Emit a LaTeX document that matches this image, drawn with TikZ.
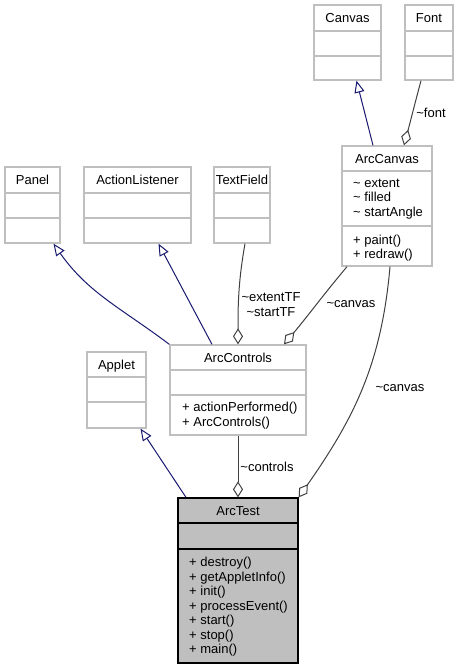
\documentclass[tikz,border=0pt]{standalone}
\usepackage{fontspec}
\setmainfont{Liberation Sans}
\usepackage{tikz}
\usetikzlibrary{positioning}
\usetikzlibrary{fit}
\usetikzlibrary{arrows.meta}
\definecolor{boxgray}{RGB}{191,191,191}
\definecolor{inhblue}{RGB}{25,25,112}
\definecolor{aggray}{RGB}{64,64,64}

\begin{document}
\begin{tikzpicture} [x = 1pt, y = -1pt,
    cls/.style = {draw = boxgray, line width = 1.3pt, inner sep = 0pt},
    mainclass/.style = {draw = black, fill = boxgray, line width = 1.3pt, inner sep = 0pt},
    txt/.style = {font = \fontsize{13}{14.5}\selectfont, inner sep = 0pt},
    title/.style = {txt, text height = 9.5pt, text depth = 2.5pt},
    members/.style = {txt, align = left, anchor = north west},
    inherit/.style = {draw = inhblue, line width = 1pt, -{Triangle[open, length = 12pt, width = 10pt]}},
    aggr/.style = {draw = aggray, line width = 1pt, -{Diamond[open, length = 16pt, width = 10pt]}}]
    \useasboundingbox (0,0) rectangle (459,669);
    % top row
    \node [cls, fit = {(314,5) (381,80)}] (canvas) {};
    \draw [cls] (314,31)--(381,31);
    \draw [cls] (314,56)--(381,56);
    \node [title, below = 8pt of canvas.north] (canvastitle) {Canvas};
    \node [cls, fit = {(405,5) (453,80)}] (font) {};
    \draw [cls] (405,31)--(453,31);
    \draw [cls] (405,56)--(453,56);
    \node [title, below = 8pt of font.north] (fonttitle) {Font};
    % ArcCanvas
    \node [cls, fit = {(342,146) (432,266)}] (arccanvas) {};
    \draw [cls] (342,171)--(432,171);
    \draw [cls] (342,226)--(432,226);
    \node [title, below = 8pt of arccanvas.north] (arccanvastitle) {ArcCanvas};
    \node [members] (arccanvasattr) at (353,178.5) {\textasciitilde{} extent\\ \textasciitilde{} filled\\ \textasciitilde{} startAngle};
    \node [members] (arccanvasops) at (353,234.5) {+ paint()\\ + redraw()};
    % middle row
    \node [cls, fit = {(5,167) (60,243)}] (panel) {};
    \draw [cls] (5,193)--(60,193);
    \draw [cls] (5,218)--(60,218);
    \node [title, below = 8pt of panel.north] (paneltitle) {Panel};
    \node [cls, fit = {(84,167) (191,243)}] (actionlistener) {};
    \draw [cls] (84,193)--(191,193);
    \draw [cls] (84,218)--(191,218);
    \node [title, below = 8pt of actionlistener.north] (actionlistenertitle) {ActionListener};
    \node [cls, fit = {(214,167) (270,243)}] (textfield) {};
    \draw [cls] (214,193)--(270,193);
    \draw [cls] (214,218)--(270,218);
    \node [title, below = 8pt of textfield.north] (textfieldtitle) {TextField};
    % ArcControls and Applet
    \node [cls, fit = {(170,345) (306,435)}] (arccontrols) {};
    \draw [cls] (170,370)--(306,370);
    \draw [cls] (170,395)--(306,395);
    \node [title, below = 8pt of arccontrols.north] (arccontrolstitle) {ArcControls};
    \node [members] (arccontrolsops) at (182,402) {+ actionPerformed()\\ + ArcControls()};
    \node [cls, fit = {(87,352) (146,428)}] (applet) {};
    \draw [cls] (87,377)--(146,377);
    \draw [cls] (87,402)--(146,402);
    \node [title, below = 8pt of applet.north] (applettitle) {Applet};
    % ArcTest
    \node [mainclass, fit = {(178,498) (298,663)}] (arctest) {};
    \draw [mainclass] (178,523)--(298,523);
    \draw [mainclass] (178,549)--(298,549);
    \node [title, below = 8pt of arctest.north] (arctesttitle) {ArcTest};
    \node [members] (arctestops) at (189,557) {+ destroy()\\ + getAppletInfo()\\ + init()\\ + processEvent()\\ + start()\\ + stop()\\ + main()};
    % inheritance
    \draw [inherit] ([xshift = -14pt]arccanvas.north)--([xshift = 9pt]canvas.south);
    \draw [inherit] (arccontrols.north west) to [out = 143, in = -55] ([xshift = 21pt]panel.south);
    \draw [inherit] ([xshift = -26pt]arccontrols.north)--([xshift = 21pt]actionlistener.south);
    \draw [inherit] ([xshift = -52pt]arctest.north)--([xshift = 24pt]applet.south);
    % aggregation
    \draw [aggr] ([xshift = -8pt]font.south) to [out = -105, in = 75] ([xshift = 17pt]arccanvas.north);
    \draw [aggr] ([xshift = 3pt]textfield.south) to [out = -100, in = 90] ([xshift = 0pt]arccontrols.north);
    \draw [aggr] ([xshift = -40pt]arccanvas.south) to [out = -130, in = 50] ([xshift = 46pt]arccontrols.north);
    \draw [aggr] ([xshift = 3pt]arccanvas.south) to [out = -95, in = 55] (arctest.north east);
    \draw [aggr] (arccontrols.south)--(arctest.north);
    % labels
    \node [txt] (fontlabel) at (431,113) {\textasciitilde font};
    \node [txt, align = center] (tflabel) at (271,304.5) {\textasciitilde extentTF\\ \textasciitilde startTF};
    \node [txt] (canvaslabela) at (351,304) {\textasciitilde canvas};
    \node [txt] (canvaslabelb) at (400,388) {\textasciitilde canvas};
    \node [txt] (controlslabel) at (267,467) {\textasciitilde controls};
\end{tikzpicture}
\end{document}
